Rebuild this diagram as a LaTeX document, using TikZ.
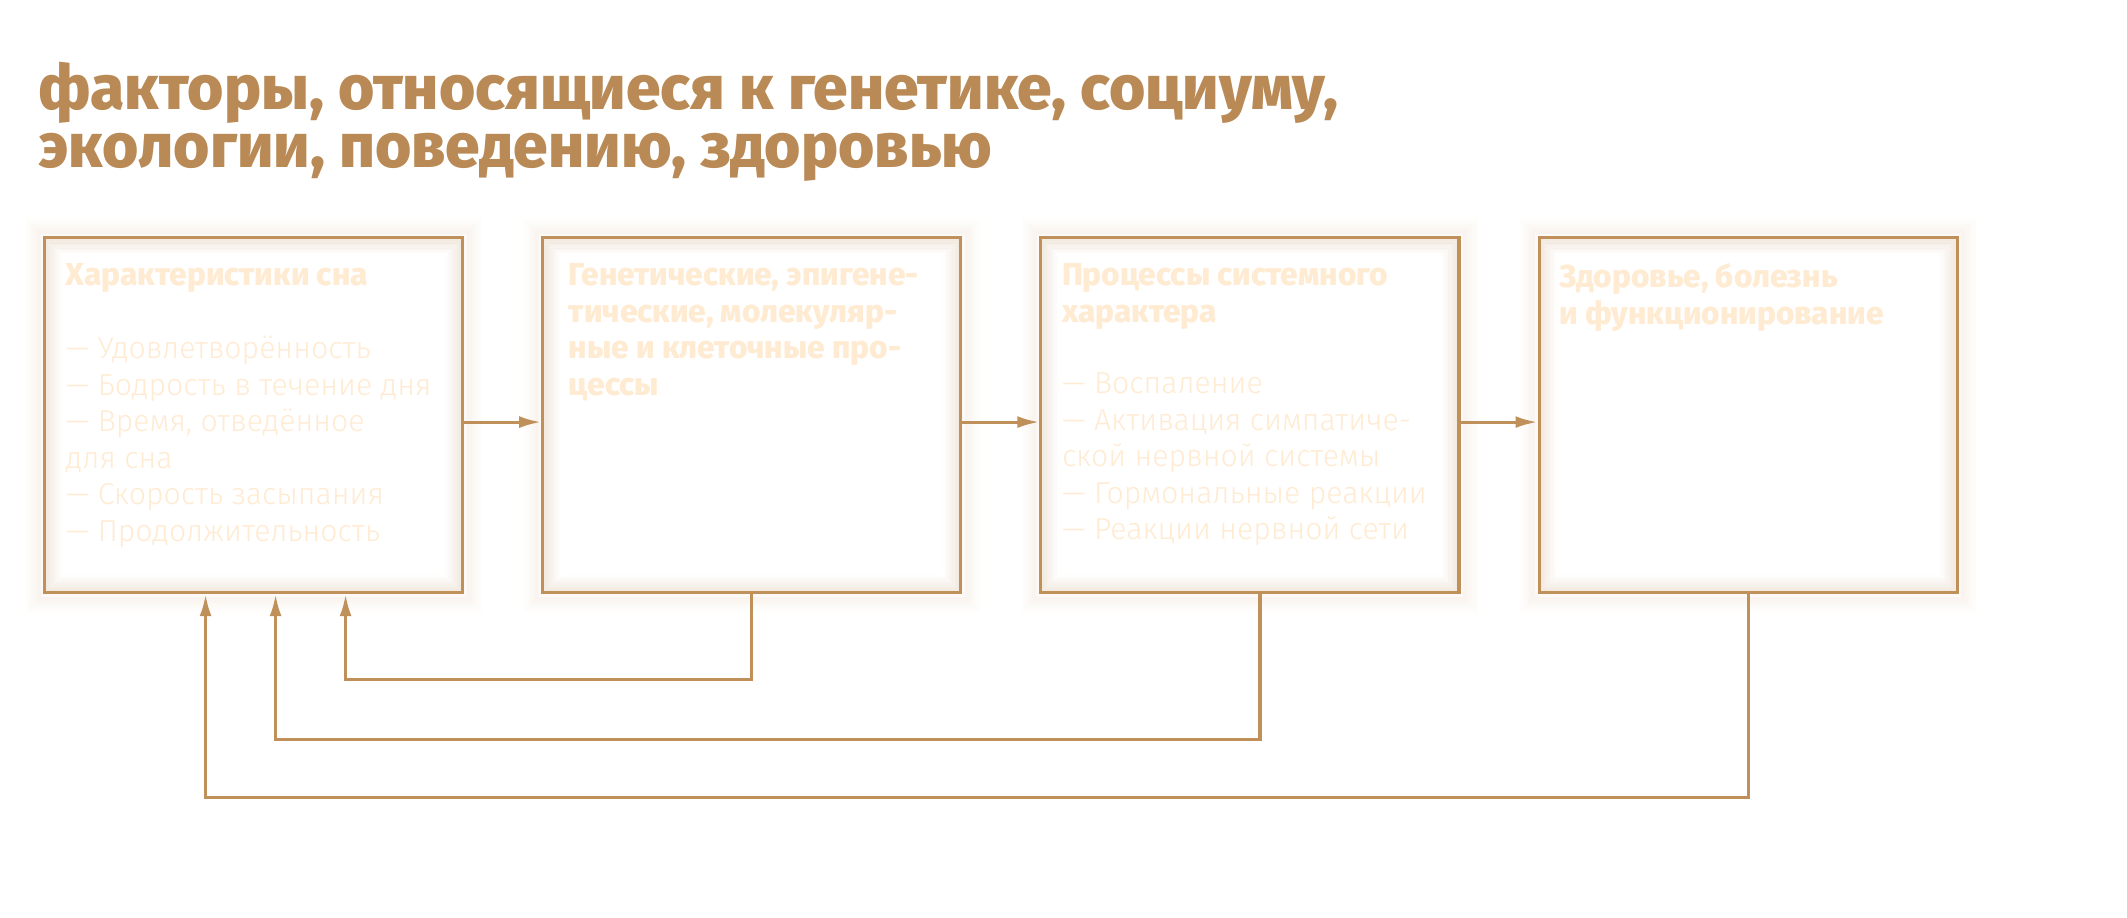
\documentclass[tikz,border=0pt]{standalone}
\usepackage{fontspec}
\setmainfont{Fira Sans}
\newfontfamily\titlefont{Fira Sans ExtraBold}
\newfontfamily\lightfont{Fira Sans Light}
\usepackage{tikz}
\usetikzlibrary{positioning,arrows.meta}
\definecolor{sand}{HTML}{C0905A}
\definecolor{sanddark}{HTML}{B98A55}
\definecolor{cream}{HTML}{FFEBD2}

\begin{document}
\begin{tikzpicture}[
        node distance=0.77cm,
        stage/.style={rectangle, draw=sand, line width=0.9pt, fill=white, minimum width=4.18cm, minimum height=3.55cm, inner sep=0pt},
        stagetext/.style={anchor=north west, inner sep=0pt, align=left, text=cream, font=\fontsize{8.6}{10.4}\selectfont\lightfont},
        stagehead/.style={stagetext, font=\fontsize{9}{10.4}\selectfont\titlefont},
        arrow/.style={-{Latex[length=0.22cm,width=0.12cm]}, draw=sand, line width=0.9pt}
    ]
        \useasboundingbox (0,0) rectangle (21.27,-9.18);

        \node[anchor=base west, inner sep=0pt, align=left, text=sanddark, font=\fontsize{17.7}{16.6}\selectfont\titlefont] (title) at (0.38,-1.68)
            {факторы, относящиеся к генетике, социуму,\\экологии, поведению, здоровью};

        \node[stage, anchor=north west] (sleep) at (0.43,-2.36) {};
        \node[stage, right=of sleep]    (genes) {};
        \node[stage, right=of genes]    (system) {};
        \node[stage, right=of system]   (health) {};

        % soft glow outside and inside the boxes
        \foreach \b in {sleep,genes,system,health} {
            \foreach \i [evaluate=\i as \op using 0.065-0.009*\i] in {1,...,7}
                \draw[sand, opacity=\op, line width=0.05cm]
                    ([shift={(-\i*0.025cm,\i*0.025cm)}]\b.north west) rectangle ([shift={(\i*0.025cm,-\i*0.025cm)}]\b.south east);
            \foreach \i [evaluate=\i as \op using 0.12-0.016*\i] in {1,...,7}
                \draw[sand, opacity=\op, line width=0.05cm]
                    ([shift={(\i*0.025cm,-\i*0.025cm)}]\b.north west) rectangle ([shift={(-\i*0.025cm,\i*0.025cm)}]\b.south east);
        }

        \node[stagehead] (sleephead) at ([xshift=0.22cm,yshift=-0.27cm]sleep.north west)
            {Характеристики сна};
        \node[stagetext, below=12pt of sleephead.south west, anchor=north west] (sleeptxt)
            {— Удовлетворённость\\
             — Бодрость в течение дня\\
             — Время, отведённое\\
             для сна\\
             — Скорость засыпания\\
             — Продолжительность};
        \node[stagehead] (geneshead) at ([xshift=0.27cm,yshift=-0.27cm]genes.north west)
            {Генетические, эпигене-\\
             тические, молекуляр-\\
             ные и клеточные про-\\
             цессы};
        \node[stagehead] (systemhead) at ([xshift=0.22cm,yshift=-0.27cm]system.north west)
            {Процессы системного\\
             характера};
        \node[stagetext, below=12pt of systemhead.south west, anchor=north west] (systemtxt)
            {— Воспаление\\
             — Активация симпатиче-\\
             ской нервной системы\\
             — Гормональные реакции\\
             — Реакции нервной сети};
        \node[stagehead] (healthhead) at ([xshift=0.21cm,yshift=-0.27cm]health.north west)
            {Здоровье, болезнь\\
             и функционирование};

        \draw[arrow] ([yshift=-0.07cm]sleep.east)  -- ([yshift=-0.07cm]genes.west);
        \draw[arrow] ([yshift=-0.07cm]genes.east)  -- ([yshift=-0.07cm]system.west);
        \draw[arrow] ([yshift=-0.07cm]system.east) -- ([yshift=-0.07cm]health.west);

        \draw[arrow] (genes.south) -- ++(0,-0.85) -| ([xshift=0.92cm]sleep.south);
        \draw[arrow] ([xshift=0.1cm]system.south) -- ++(0,-1.45) -| ([xshift=0.22cm]sleep.south);
        \draw[arrow] (health.south) -- ++(0,-2.03) -| ([xshift=-0.48cm]sleep.south);
    \end{tikzpicture}
\end{document}
